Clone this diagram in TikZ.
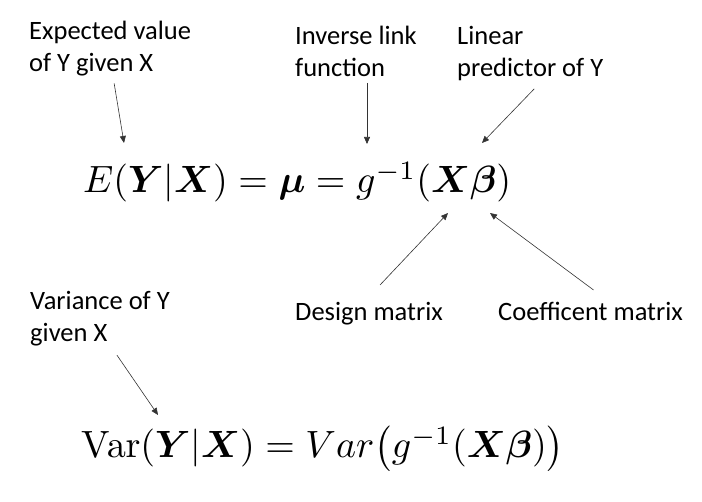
\documentclass[tikz,border=0pt]{standalone}
\usepackage{amsmath}
\usepackage{bm}
\usepackage{graphicx}
\usepackage[no-math]{fontspec}
\setmainfont{Carlito}
\usetikzlibrary{positioning,arrows.meta}

\begin{document}
\begin{tikzpicture}[x=1pt,y=-1pt]
\tikzset{
  lbl/.style={font=\fontsize{26.5}{32}\selectfont, align=left, anchor=north west, inner sep=0pt},
  eq/.style={anchor=base west, inner sep=0pt},
  pointer/.style={-{Triangle[length=7pt,width=6pt]}, line width=0.6pt, black!80}
}
\useasboundingbox (0,0) rectangle (702,502);

% labels
\node[lbl] (expected) at (29,21) {Expected value\\of Y given X};
\node[lbl] (inverse) at (295,26) {Inverse link\\function};
\node[lbl] (linear) at (457,26) {Linear\\predictor of Y};
\node[lbl] (design) at (295,302) {Design matrix};
\node[lbl] (coef) at (498,302) {Coefficent matrix};
\node[lbl] (variance) at (30,291) {Variance of Y\\given X};

% equations
\node[eq] (eqmean) at (83,193) {\scalebox{3.8}{$E(\bm{Y}|\bm{X}) = \bm{\mu} = g^{-1}(\bm{X\beta})$}};
\node[eq] (eqvar) at (81,458) {\scalebox{3.8}{$\mathrm{Var}(\bm{Y}|\bm{X}) = Var\big(g^{-1}(\bm{X\beta})\big)$}};

% arrow tips
\coordinate (tipE) at (124,143);
\coordinate (tipG) at (367,144);
\coordinate (tipLin) at (482,143);
\coordinate (tipX) at (448,213);
\coordinate (tipB) at (490,213);
\coordinate (tipVar) at (158,415);

\draw[pointer] ([xshift=4pt,yshift=-7pt]expected.south) -- (tipE);
\draw[pointer] ([yshift=-6pt]inverse.south -| tipG) -- (tipG);
\draw[pointer] ([xshift=4pt,yshift=-8pt]linear.south) -- (tipLin);
\draw[pointer] ([xshift=11pt,yshift=17pt]design.north) -- (tipX);
\draw[pointer] ([xshift=3pt,yshift=12pt]coef.north) -- (tipB);
\draw[pointer] ([xshift=17pt,yshift=-9pt]variance.south) -- (tipVar);
\end{tikzpicture}
\end{document}
